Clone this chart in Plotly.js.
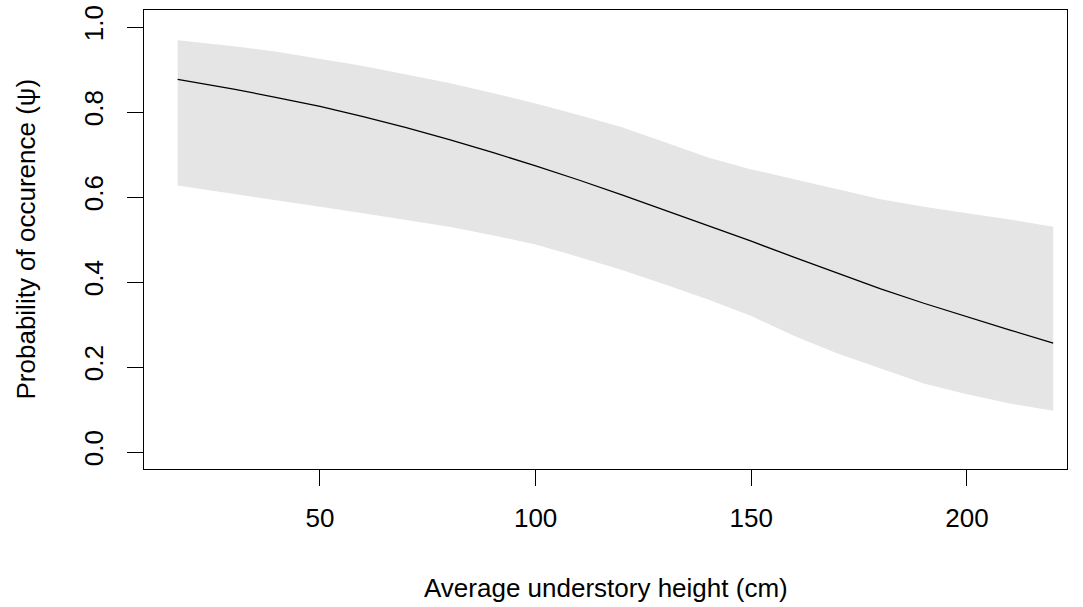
<!DOCTYPE html>
<html>
<head>
<meta charset="utf-8">
<script src="https://cdn.plot.ly/plotly-3.0.1.min.js"></script>
<style>html,body{margin:0;padding:0;background:#fff;}#chart{width:1083px;height:607px;}</style>
</head>
<body>
<div id="chart"></div>
<script>
// Average understory height (cm)
var heights = [17, 30, 40, 50, 60, 70, 80, 90, 100, 110, 120, 130, 140, 150, 160, 170, 180, 190, 200, 210, 220];
// Predicted probability of occurrence
var psiMean  = [0.877, 0.854, 0.834, 0.813, 0.789, 0.763, 0.735, 0.705, 0.673, 0.640, 0.605, 0.569, 0.533, 0.496, 0.458, 0.421, 0.384, 0.350, 0.318, 0.287, 0.256];
// Upper confidence limit
var psiUpper = [0.969, 0.955, 0.942, 0.925, 0.908, 0.888, 0.868, 0.845, 0.820, 0.793, 0.764, 0.729, 0.693, 0.665, 0.641, 0.618, 0.595, 0.577, 0.562, 0.547, 0.530];
// Lower confidence limit
var psiLower = [0.627, 0.608, 0.593, 0.577, 0.562, 0.546, 0.530, 0.510, 0.488, 0.459, 0.428, 0.394, 0.359, 0.320, 0.273, 0.232, 0.196, 0.161, 0.136, 0.114, 0.097];
var xTicks = [50, 100, 150, 200];
var yTicks = [0, 0.2, 0.4, 0.6, 0.8, 1.0];
var yTickText = ["0.0", "0.2", "0.4", "0.6", "0.8", "1.0"];

var FONT = '"Liberation Sans", Arial, sans-serif';

var traces = [
  {x: heights, y: psiLower, mode: 'lines', line: {width: 0, color: 'rgba(0,0,0,0)'}, hoverinfo: 'skip', showlegend: false},
  {x: heights, y: psiUpper, mode: 'lines', line: {width: 0, color: 'rgba(0,0,0,0)'}, fill: 'tonexty', fillcolor: 'rgb(229,229,229)', hoverinfo: 'skip', showlegend: false},
  {x: heights, y: psiMean, mode: 'lines', line: {width: 1.3, color: '#000'}, showlegend: false}
];

var layout = {
  width: 1083, height: 607,
  margin: {l: 144, r: 16, t: 10, b: 138, pad: 0},
  paper_bgcolor: '#fff', plot_bgcolor: '#fff',
  font: {family: FONT, size: 26, color: '#000'},
  showlegend: false,
  xaxis: {
    range: [9.2, 223.2], showgrid: false, zeroline: false,
    showline: true, mirror: true, linecolor: '#000', linewidth: 1,
    ticks: 'outside', ticklen: 16, tickwidth: 1, tickcolor: '#000',
    tickvals: xTicks, ticktext: xTicks.map(String),
    ticklabelstandoff: 10,
    tickfont: {family: FONT, size: 26, color: '#000'}
  },
  yaxis: {
    range: [-0.04, 1.04], showgrid: false, zeroline: false,
    showline: true, mirror: true, linecolor: '#000', linewidth: 1,
    ticks: 'outside', ticklen: 16, tickwidth: 1, tickcolor: '#000',
    tickvals: yTicks, ticktext: yTickText, tickangle: -90,
    ticklabelstandoff: 14,
    tickfont: {family: FONT, size: 26, color: '#000'}
  },
  annotations: [
    {text: 'Average understory height (cm)', xref: 'paper', yref: 'paper', x: 0.5, y: 0, yshift: -119, xanchor: 'center', yanchor: 'middle', showarrow: false, font: {family: FONT, size: 26, color: '#000'}},
    {text: 'Probability of occurence (\u03C8)', xref: 'paper', yref: 'paper', x: 0, y: 0.5, xshift: -119, xanchor: 'center', yanchor: 'middle', textangle: -90, showarrow: false, font: {family: FONT, size: 26, color: '#000'}}
  ]
};

Plotly.newPlot('chart', traces, layout, {staticPlot: true, displayModeBar: false});
</script>
</body>
</html>
